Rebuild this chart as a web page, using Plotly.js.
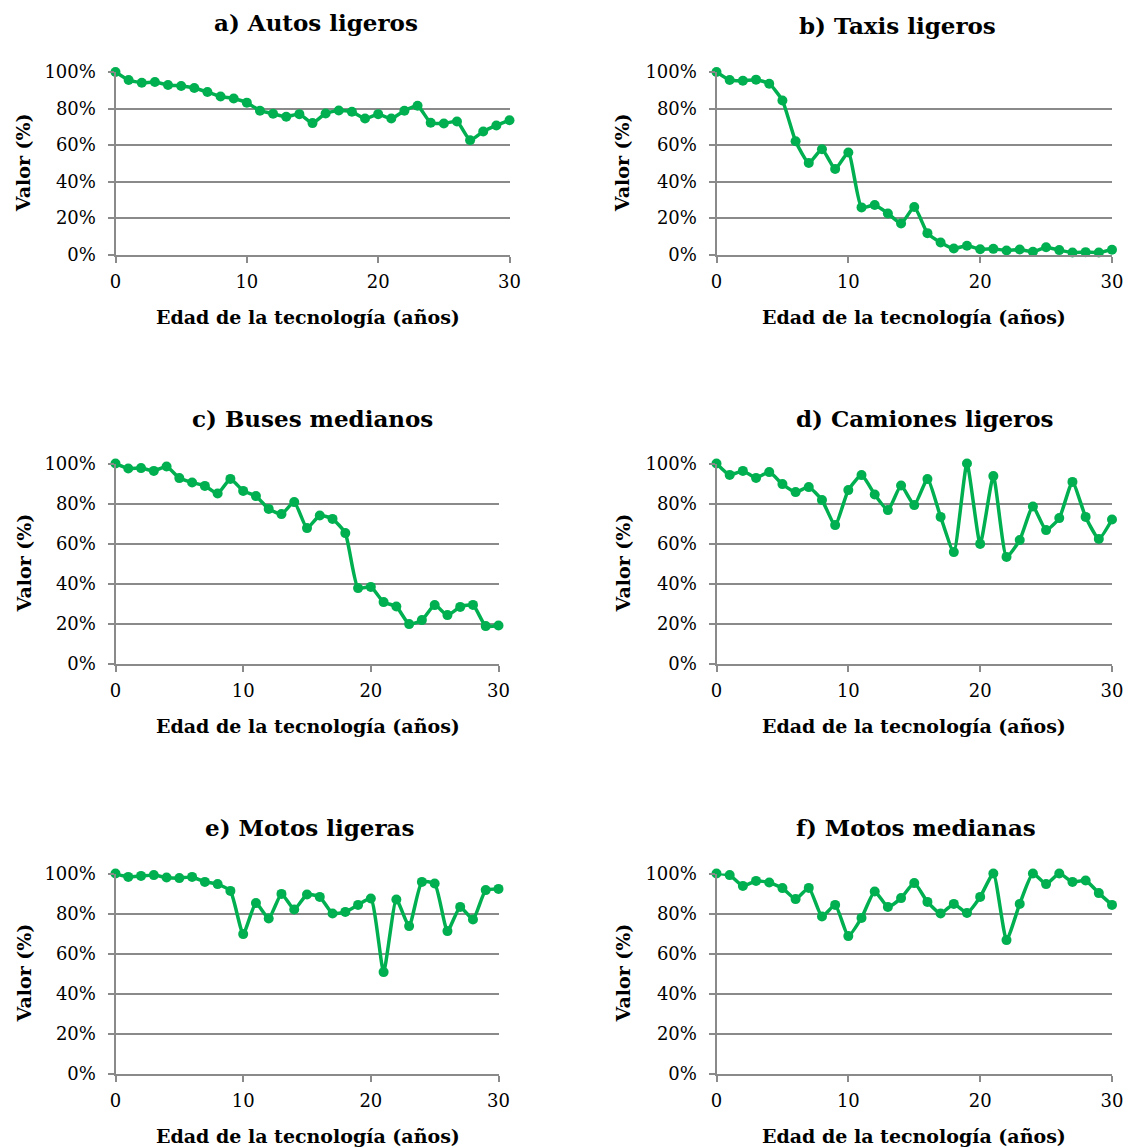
<!DOCTYPE html>
<html>
<head>
<meta charset="utf-8">
<script src="https://cdn.plot.ly/plotly-3.0.1.min.js"></script>
<style>
	html, body { margin: 0; padding: 0; background: #fff; }
	#chart { width: 1128px; height: 1147px; }
</style>
</head>
<body>
<div id="chart"></div>
<script>
"use strict";

// edad de la tecnologia (anos)
var edad = [0, 1, 2, 3, 4, 5, 6, 7, 8, 9, 10, 11, 12, 13, 14, 15, 16, 17, 18, 19, 20, 21, 22, 23, 24, 25, 26, 27, 28, 29, 30];

// valores (%)
var autosLigeros = [100, 95.6, 94.1, 94.5, 92.9, 92.3, 91.2, 89.0, 86.6, 85.5, 83.2, 78.8, 77.1, 75.5, 76.9, 72.0, 77.3, 78.9, 78.2, 74.5, 76.9, 74.5, 78.8, 81.5, 72.2, 71.8, 72.9, 62.6, 67.4, 70.7, 73.6];
var taxisLigeros = [100, 95.6, 95.2, 95.8, 93.6, 84.4, 62.1, 50.2, 57.7, 46.9, 55.9, 25.8, 27.1, 22.5, 17.0, 26.0, 11.7, 6.6, 3.3, 4.8, 2.9, 3.1, 2.2, 2.7, 1.5, 4.0, 2.4, 1.1, 1.3, 1.1, 2.6];
var busesMedianos = [100, 97.5, 97.7, 96.3, 98.5, 92.7, 90.5, 88.8, 85.0, 92.3, 86.3, 83.7, 77.3, 74.7, 80.7, 67.7, 74.0, 72.3, 65.2, 37.7, 38.3, 30.7, 28.5, 19.7, 21.7, 29.2, 24.2, 28.3, 29.3, 18.7, 19.0];
var camionesLigeros = [100, 94.3, 96.3, 92.8, 95.7, 89.7, 85.7, 88.2, 81.7, 69.2, 86.7, 94.2, 84.5, 76.7, 89.0, 79.2, 92.2, 73.3, 55.7, 100, 59.8, 93.7, 53.3, 61.7, 78.5, 66.7, 72.7, 90.8, 73.3, 62.3, 72.0];
var motosLigeras = [100, 98.3, 98.8, 99.2, 98.0, 97.7, 98.3, 95.8, 94.7, 91.3, 69.7, 85.2, 77.5, 89.8, 82.0, 89.5, 88.3, 80.0, 80.8, 84.3, 87.5, 50.7, 87.0, 73.7, 95.8, 95.0, 71.2, 83.3, 77.0, 91.7, 92.3];
var motosMedianas = [100, 99.2, 93.8, 96.3, 95.5, 92.7, 87.2, 92.8, 78.5, 84.3, 68.7, 77.8, 91.0, 83.3, 87.7, 95.2, 85.8, 80.0, 84.8, 80.3, 88.3, 100, 66.7, 84.8, 100, 94.7, 100, 95.8, 96.5, 90.2, 84.3];

var titulos = ["a) Autos ligeros", "b) Taxis ligeros", "c) Buses medianos", "d) Camiones ligeros", "e) Motos ligeras", "f) Motos medianas"];
var series = [autosLigeros, taxisLigeros, busesMedianos, camionesLigeros, motosLigeras, motosMedianas];

var W = 1128, H = 1147;
var FONT = "DejaVu Serif, Liberation Serif, serif";
var GRIS = "#8a8a8a";
var VERDE = "#00b050";

// panel boxes in pixels: x0, x1, yTop, yBottom, title centre x, title y
var cajas = [
	{ x0: 115.5, x1: 509.5, yt: 72, yb: 254.5, tx: 316, ty: 23 },
	{ x0: 716.5, x1: 1112, yt: 72, yb: 254.5, tx: 897, ty: 26 },
	{ x0: 115.5, x1: 498.5, yt: 463.5, yb: 663.5, tx: 312, ty: 418 },
	{ x0: 716.5, x1: 1112, yt: 463.5, yb: 663.5, tx: 925, ty: 418 },
	{ x0: 115.5, x1: 498.5, yt: 873.5, yb: 1073.5, tx: 309, ty: 828 },
	{ x0: 716.5, x1: 1112, yt: 873.5, yb: 1073.5, tx: 916, ty: 828 }
];

function px(x) { return x / W; }
function py(y) { return 1 - y / H; }

function draw() {
	let data = [], annotations = [];
	let layout = {
		width: W,
		height: H,
		margin: { l: 0, r: 0, t: 0, b: 0 },
		paper_bgcolor: "#fff",
		plot_bgcolor: "#fff",
		showlegend: false,
		font: { family: FONT, size: 18, color: "#000" }
	};

	for (let i = 0; i < series.length; i++) {
		let c = cajas[i], n = i === 0 ? "" : String(i + 1);
		data.push({
			x: edad,
			y: series[i],
			type: "scatter",
			mode: "lines+markers",
			line: { color: VERDE, width: 3.5, shape: "spline", smoothing: 0.5 },
			marker: { color: VERDE, size: 10 },
			cliponaxis: false,
			xaxis: "x" + n,
			yaxis: "y" + n,
			hoverinfo: "x+y"
		});
		layout["xaxis" + n] = {
			domain: [px(c.x0), px(c.x1)],
			anchor: "y" + n,
			range: [0, 30],
			tickvals: [0, 10, 20, 30],
			ticks: "outside",
			ticklen: 6,
			tickwidth: 2,
			tickcolor: GRIS,
			showline: true,
			linecolor: GRIS,
			linewidth: 2,
			showgrid: false,
			zeroline: false,
			ticklabelstandoff: 4,
			tickfont: { family: FONT, size: 18, color: "#000" }
		};
		layout["yaxis" + n] = {
			domain: [py(c.yb), py(c.yt)],
			anchor: "x" + n,
			range: [0, 100],
			dtick: 20,
			ticksuffix: "%",
			ticks: "outside",
			ticklen: 6,
			tickwidth: 2,
			tickcolor: GRIS,
			showline: true,
			linecolor: GRIS,
			linewidth: 2,
			showgrid: true,
			gridcolor: GRIS,
			gridwidth: 2,
			zeroline: false,
			ticklabelstandoff: 8,
			tickfont: { family: FONT, size: 18, color: "#000" }
		};

		// panel title
		annotations.push({
			text: "<b>" + titulos[i] + "</b>",
			xref: "paper", yref: "paper",
			x: px(c.tx), y: py(c.ty),
			xanchor: "center", yanchor: "middle",
			showarrow: false,
			font: { family: FONT, size: 23, color: "#000" }
		});
		// x title
		annotations.push({
			text: "<b>Edad de la tecnología (años)</b>",
			xref: "paper", yref: "paper",
			x: px(c.x0 < 300 ? 308 : 914), y: py(c.yb + 62),
			xanchor: "center", yanchor: "middle",
			showarrow: false,
			font: { family: FONT, size: 19, color: "#000" }
		});
		// y title
		annotations.push({
			text: "<b>Valor (%)</b>",
			xref: "paper", yref: "paper",
			x: px(c.x0 < 300 ? 23 : 622), y: py((c.yt + c.yb) / 2),
			xanchor: "center", yanchor: "middle",
			textangle: -90,
			showarrow: false,
			font: { family: FONT, size: 19, color: "#000" }
		});
	}
	layout.annotations = annotations;

	return Plotly.newPlot("chart", data, layout, { displayModeBar: false, staticPlot: true });
} //draw

window.addEventListener("DOMContentLoaded", draw);
</script>
</body>
</html>
